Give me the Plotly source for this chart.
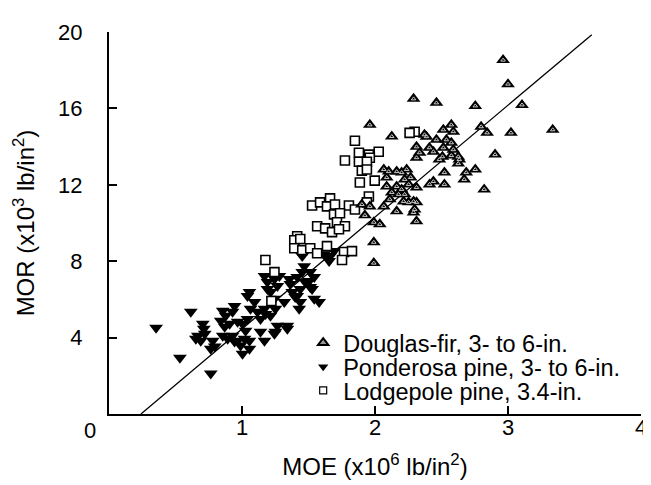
import plotly.graph_objects as go

# ---------------- data ----------------
douglas_moe = [2.963, 3.000, 3.105, 2.754, 2.462, 2.290, 2.798, 2.843, 3.022, 3.336,
               2.903, 1.961, 2.126, 2.372, 2.514, 2.574, 2.589, 2.537, 2.574, 2.462,
               2.514, 2.589, 2.409, 2.439, 2.312, 2.335, 2.312, 2.484, 2.626, 2.634,
               2.626, 2.522, 2.686, 2.671, 2.754, 2.821, 2.522, 2.410, 2.439, 2.066,
               2.103, 2.163, 2.200, 2.238, 2.088, 2.088, 2.163, 2.200, 2.253, 2.312,
               2.126, 2.178, 2.223, 2.111, 2.215, 2.253, 2.290, 2.298, 2.312, 2.290,
               2.312, 2.163, 2.066, 1.961, 1.901, 1.924, 1.991, 2.036, 1.991, 1.991,
               2.387, 2.574, 2.507, 2.223, 2.268]
douglas_mor = [18.53, 17.27, 16.18, 16.13, 16.29, 16.50, 15.04, 14.72, 14.72, 14.88,
               13.58, 15.14, 14.53, 14.62, 14.88, 15.14, 14.78, 14.36, 14.20, 14.36,
               13.94, 13.84, 13.94, 13.73, 13.99, 13.68, 13.42, 13.32, 13.47, 13.32,
               13.11, 12.64, 12.64, 12.28, 12.80, 11.76, 12.02, 12.02, 12.17, 12.80,
               12.69, 12.69, 12.64, 12.80, 12.38, 11.91, 11.91, 11.76, 12.02, 11.86,
               11.60, 11.50, 11.50, 11.24, 11.13, 11.08, 11.13, 10.71, 11.08, 10.55,
               10.09, 10.61, 10.87, 10.87, 10.97, 10.40, 10.04, 9.93, 8.99, 7.90,
               14.52, 13.53, 13.47, 12.28, 12.38]

ponderosa_moe = [0.354, 0.615, 0.533, 0.765, 0.705, 0.713, 0.653, 0.690, 0.780, 0.795,
                 0.765, 0.855, 0.877, 0.944, 0.929, 0.840, 0.870, 0.907, 0.967, 1.004,
                 1.027, 0.855, 0.892, 0.929, 0.944, 0.967, 0.989, 1.004, 1.019, 1.056,
                 1.056, 1.041, 1.056, 1.094, 1.116, 1.139, 1.169, 1.064, 1.041, 1.139,
                 1.169, 1.244, 1.341, 1.191, 1.266, 1.244, 1.318, 1.363, 1.415, 1.438,
                 1.430, 1.505, 1.513, 1.543, 1.169, 1.191, 1.244, 0.668, 0.720, 1.177,
                 1.214, 1.251, 1.266, 1.341, 1.251, 1.214, 1.356, 1.378, 1.415, 1.400,
                 1.438, 1.475, 1.527, 1.580, 1.453, 1.468, 1.513, 1.543, 1.617, 1.662,
                 1.692, 1.655, 1.453, 1.281]
ponderosa_mor = [4.52, 5.35, 2.95, 2.12, 4.72, 4.46, 3.94, 3.84, 3.84, 3.53,
                 3.42, 5.40, 5.14, 5.66, 5.35, 4.88, 4.57, 4.72, 4.83, 4.72,
                 4.36, 4.10, 3.94, 4.10, 3.79, 3.84, 3.58, 3.16, 3.94, 3.84,
                 3.42, 6.18, 6.39, 5.87, 5.35, 4.98, 5.51, 5.51, 4.98, 4.31,
                 3.84, 4.20, 4.46, 6.55, 6.70, 6.03, 5.87, 6.81, 6.18, 6.55,
                 5.51, 6.96, 6.65, 6.03, 7.22, 6.91, 7.07, 4.10, 4.20, 5.24,
                 5.14, 5.51, 4.62, 4.62, 4.31, 6.39, 7.07, 6.39, 7.17, 6.13,
                 5.87, 6.91, 6.55, 5.87, 8.27, 7.74, 7.43, 7.17, 8.37, 8.27,
                 8.53, 8.01, 7.43, 7.22]

lodgepole_moe = [2.298, 2.260, 1.849, 1.879, 1.954, 2.028, 1.961, 1.774, 1.879, 1.939,
                 1.901, 1.939, 1.886, 1.998, 1.954, 1.939, 1.527, 1.587, 1.662, 1.639,
                 1.699, 1.804, 1.849, 1.692, 1.737, 1.714, 1.774, 1.565, 1.625, 1.677,
                 1.729, 1.415, 1.393, 1.438, 1.393, 1.453, 1.513, 1.565, 1.639, 1.767,
                 1.827, 1.752, 1.176, 1.244, 1.221]
lodgepole_mor = [14.78, 14.72, 14.31, 13.68, 13.58, 13.73, 13.42, 13.27, 13.21, 13.21,
                 12.74, 12.80, 12.12, 12.22, 11.39, 11.08, 10.92, 11.08, 11.29, 10.87,
                 10.97, 10.92, 10.71, 10.45, 10.51, 10.04, 9.83, 9.83, 9.72, 9.52,
                 9.67, 9.31, 9.10, 9.16, 8.68, 8.58, 8.68, 8.42, 8.79, 8.48,
                 8.53, 8.06, 8.06, 7.43, 5.92]

fit_moe = [0.24, 3.63]
fit_mor = [0.0, 19.86]

x_ticks = [1, 2, 3, 4]
y_ticks = [4, 8, 12, 16, 20]

FONT = "Liberation Sans, Arial, sans-serif"
TICK_SIZE = 22
TEXT_SIZE = 24
LEGEND_SIZE = 23.5

fig = go.Figure()

fig.add_trace(go.Scatter(x=fit_moe, y=fit_mor, mode="lines",
                         line=dict(color="black", width=1.3), showlegend=False,
                         hoverinfo="skip"))
fig.add_trace(go.Scatter(x=ponderosa_moe, y=ponderosa_mor, mode="markers",
                         marker=dict(size=12, symbol="triangle-down", color="black"),
                         showlegend=False, name="Ponderosa pine, 3- to 6-in."))
fig.add_trace(go.Scatter(x=lodgepole_moe, y=lodgepole_mor, mode="markers",
                         marker=dict(size=9, symbol="square", color="white",
                                     line=dict(color="black", width=1.6)),
                         showlegend=False, name="Lodgepole pine, 3.4-in."))
# Douglas-fir: black triangle with a small light inner outline
fig.add_trace(go.Scatter(x=douglas_moe, y=douglas_mor, mode="markers",
                         marker=dict(size=12, symbol="triangle-up", color="black"),
                         showlegend=False, name="Douglas-fir, 3- to 6-in."))
fig.add_trace(go.Scatter(x=douglas_moe, y=douglas_mor, mode="markers",
                         marker=dict(size=4, symbol="triangle-up-open", color="#c8c8c8",
                                     line=dict(width=1)),
                         showlegend=False, hoverinfo="skip"))

# legend entries, one small legend per row
fig.add_trace(go.Scatter(x=[None], y=[None], mode="markers", name="Douglas-fir, 3- to 6-in.",
                         marker=dict(size=9, symbol="triangle-up", color="#9a9a9a",
                                     line=dict(color="black", width=2)), legend="legend"))
fig.add_trace(go.Scatter(x=[None], y=[None], mode="markers", name="Ponderosa pine, 3- to 6-in.",
                         marker=dict(size=9, symbol="triangle-down", color="black"),
                         legend="legend2"))
fig.add_trace(go.Scatter(x=[None], y=[None], mode="markers", name="Lodgepole pine, 3.4-in.",
                         marker=dict(size=7, symbol="square", color="white",
                                     line=dict(color="black", width=1.2)), legend="legend3"))

axis_common = dict(showline=True, linecolor="black", linewidth=2, ticks="inside",
                   ticklen=8, tickwidth=2, tickcolor="black", showgrid=False,
                   zeroline=False, tickfont=dict(family=FONT, size=TICK_SIZE, color="black"))

legend_common = dict(xanchor="left", yanchor="middle", bgcolor="rgba(0,0,0,0)",
                     borderwidth=0, font=dict(family=FONT, size=LEGEND_SIZE, color="black"),
                     itemsizing="trace")
LEG_X = 0.365

fig.update_layout(
    width=651, height=485,
    margin=dict(l=101, r=15, t=22, b=79),
    paper_bgcolor="white", plot_bgcolor="white",
    font=dict(family=FONT, size=TEXT_SIZE, color="black"),
    xaxis=dict(range=[0, 4], tickvals=x_ticks, ticklabelstandoff=-7,
               title=dict(text="MOE (x10<sup>6</sup> lb/in<sup>2</sup>)",
                          font=dict(family=FONT, size=TEXT_SIZE), standoff=19),
               **axis_common),
    yaxis=dict(range=[0, 20], tickvals=y_ticks, ticklabelstandoff=20,
               title=dict(text="MOR (x10<sup>3</sup> lb/in<sup>2</sup>)",
                          font=dict(family=FONT, size=TEXT_SIZE), standoff=17),
               **axis_common),
    legend=dict(x=LEG_X, y=0.186, **legend_common),
    legend2=dict(x=LEG_X, y=0.123, **legend_common),
    legend3=dict(x=LEG_X, y=0.061, **legend_common),
    annotations=[dict(text="0", x=-0.036, y=-0.042, xref="paper", yref="paper",
                      showarrow=False, xanchor="center", yanchor="middle",
                      font=dict(family=FONT, size=TICK_SIZE, color="black"))],
)

fig.write_html("out.html")
